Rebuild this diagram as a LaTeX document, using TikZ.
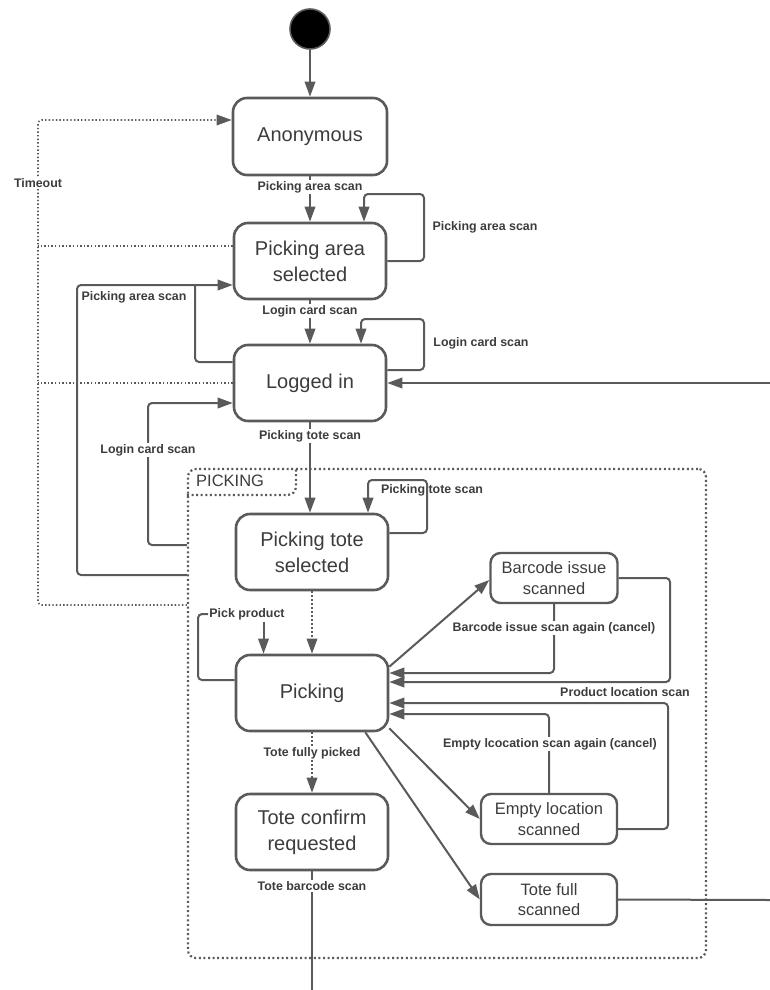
\documentclass[tikz,border=0pt]{standalone}
\usepackage{fontspec}
\setmainfont{Liberation Sans}
\usetikzlibrary{arrows.meta}
\definecolor{ln}{HTML}{5A5A5A}
\definecolor{tx}{HTML}{3C3C3C}
\begin{document}
\begin{tikzpicture}[x=1pt,y=-1pt,
  state/.style={draw=ln, line width=2.6pt, rounded corners=14pt, text=tx,
    font=\fontsize{20}{26}\selectfont, align=center, inner sep=0pt,
    minimum width=152pt, minimum height=76pt},
  smallstate/.style={draw=ln, line width=2.4pt, rounded corners=10pt, text=tx,
    font=\fontsize{16.5}{20.5}\selectfont, align=center, inner sep=0pt},
  lbl/.style={text=tx, font=\bfseries\fontsize{12.4}{14}\selectfont, inner sep=1.5pt},
  wlbl/.style={lbl, fill=white},
  tip/.style={-{Triangle[length=15pt,width=10.5pt]}},
  conn/.style={draw=ln, line width=2pt, rounded corners=4pt},
  arr/.style={conn, tip},
  darr/.style={draw=ln, line width=1.8pt, dash pattern=on 1.6pt off 2.4pt, tip},
  tdots/.style={draw=ln, line width=1.6pt, dash pattern=on 1.4pt off 2.2pt},
  tarr/.style={tdots, rounded corners=4pt, tip},
  fdots/.style={draw=ln, line width=2.2pt, dash pattern=on 2pt off 2.6pt},
]
\useasboundingbox (0,0) rectangle (770,990);

% composite state frame
\node[fdots, rounded corners=8pt, minimum width=518pt, minimum height=489pt,
  inner sep=0pt] (grp) at (447,713.5) {};
\draw[fdots, rounded corners=8pt] ([yshift=-27pt]grp.north west) -- ++(109,0)
  -- ([xshift=109pt]grp.north west);
\node[text=tx, font=\fontsize{16.5}{18}\selectfont, anchor=west, inner sep=0pt]
  (grplbl) at (196,481) {PICKING};

% states
\node[circle, fill=black, draw=ln, line width=1.6pt, minimum size=40pt,
  inner sep=0pt] (init) at (310,29) {};
\node[state, minimum width=154pt, minimum height=77pt] (anon) at (310,136.5) {Anonymous};
\node[state] (pas) at (310,261) {Picking area\\selected};
\node[state] (li) at (310,383) {Logged in};
\node[state] (pts) at (312,552) {Picking tote\\selected};
\node[state] (pick) at (312,693) {Picking};
\node[state] (tcr) at (312,832) {Tote confirm\\requested};
\node[smallstate, minimum width=127pt, minimum height=50pt] (bis) at (554,578) {Barcode issue\\scanned};
\node[smallstate, minimum width=136pt, minimum height=50pt] (els) at (549,819) {Empty location\\scanned};
\node[smallstate, minimum width=136pt, minimum height=51pt] (tfs) at (549,899.5) {Tote full\\scanned};

% free ends and bends
\coordinate (rin) at (770,383);
\coordinate (rout) at (770,900);
\coordinate (bot) at (312,990);
\coordinate (tl) at (38,120);
\coordinate (pa) at (77,285);
\coordinate (lc) at (148,403);
\coordinate (pp) at (263.5,622);

% main sequence
\draw[arr] (init) -- (anon);
\draw[arr] (anon) -- (pas);
\node[wlbl] (l1) at (310,187) {Picking area scan};
\draw[arr] (pas.east) -| (424,194) -| ([xshift=54pt]pas.north);
\node[lbl] (l2) at (485,227) {Picking area scan};
\draw[arr] (pas) -- (li);
\node[wlbl] (l3) at (310,311) {Login card scan};
\draw[arr] ([yshift=13pt]li.east) -| (424,319) -| ([xshift=51pt]li.north);
\node[lbl] (l4) at (481,343) {Login card scan};
\draw[arr] (rin) -- (li.east);
\draw[arr] (li.south) -- (li.south |- pts.north);
\node[wlbl] (l5) at (310,436) {Picking tote scan};
\draw[arr] ([yshift=19pt]pts.east) -| (427,480) -| ([xshift=56pt]pts.north);
\node[lbl] (l6) at (432,490) {Picking tote scan};
\draw[darr] (pts) -- (pick);

% inside picking
\draw[conn] ([yshift=13pt]pick.west) -| (198,614) -- (208,614);
\node[lbl] (l7) at (247,614) {Pick product};
\draw[arr] (pp) -- (pp |- pick.north);
\draw[arr] ([yshift=-13pt]pick.north east) -- ([yshift=-2pt]bis.west);
\draw[arr] (bis.south) |- ([yshift=20pt]pick.east);
\node[wlbl] (l8) at (554,628) {Barcode issue scan again (cancel)};
\draw[arr] (bis.east) -| (670,682) -- ([yshift=11pt]pick.east);
\node[lbl] (l9) at (625,692) {Product location scan};
\draw[arr] ([yshift=-10pt]els.east) -| (668,703) -- ([yshift=-10pt]pick.east);
\draw[arr] (els.north) |- ([yshift=-21pt]pick.east);
\node[wlbl] (l10) at (550,744) {Empty lcocation scan again (cancel)};
\draw[arr] ([yshift=4pt]pick.south east) -- (els.west);
\draw[arr] ([xshift=-24pt]pick.south east) -- (tfs.west);
\draw[conn] (tfs.east) -- (rout);
\draw[darr] (pick) -- (tcr);
\node[wlbl] (l11) at (312,753) {Tote fully picked};
\draw[conn] (tcr) -- (bot);
\node[wlbl] (l12) at (312,886) {Tote barcode scan};

% returns on the left
\draw[tarr] ([yshift=108.5pt]grp.west) -| (tl) -- ([yshift=16.5pt]anon.west);
\draw[tdots] ([yshift=15pt]pas.west) -- ([yshift=15pt]pas.west -| tl);
\draw[tdots] (li.west) -- (li.west -| tl);
\node[wlbl] (l13) at (38,183) {Timeout};
\draw[arr] ([yshift=138.5pt]grp.west) -| (pa) -- ([yshift=-24pt]pas.west);
\draw[conn] ([yshift=21pt]li.west) -| (195,285);
\node[lbl] (l14) at (134,297) {Picking area scan};
\draw[arr] ([yshift=168.5pt]grp.west) -| (lc) -- ([yshift=-20pt]li.west);
\node[wlbl] (l15) at (148,450) {Login card scan};
\end{tikzpicture}
\end{document}
